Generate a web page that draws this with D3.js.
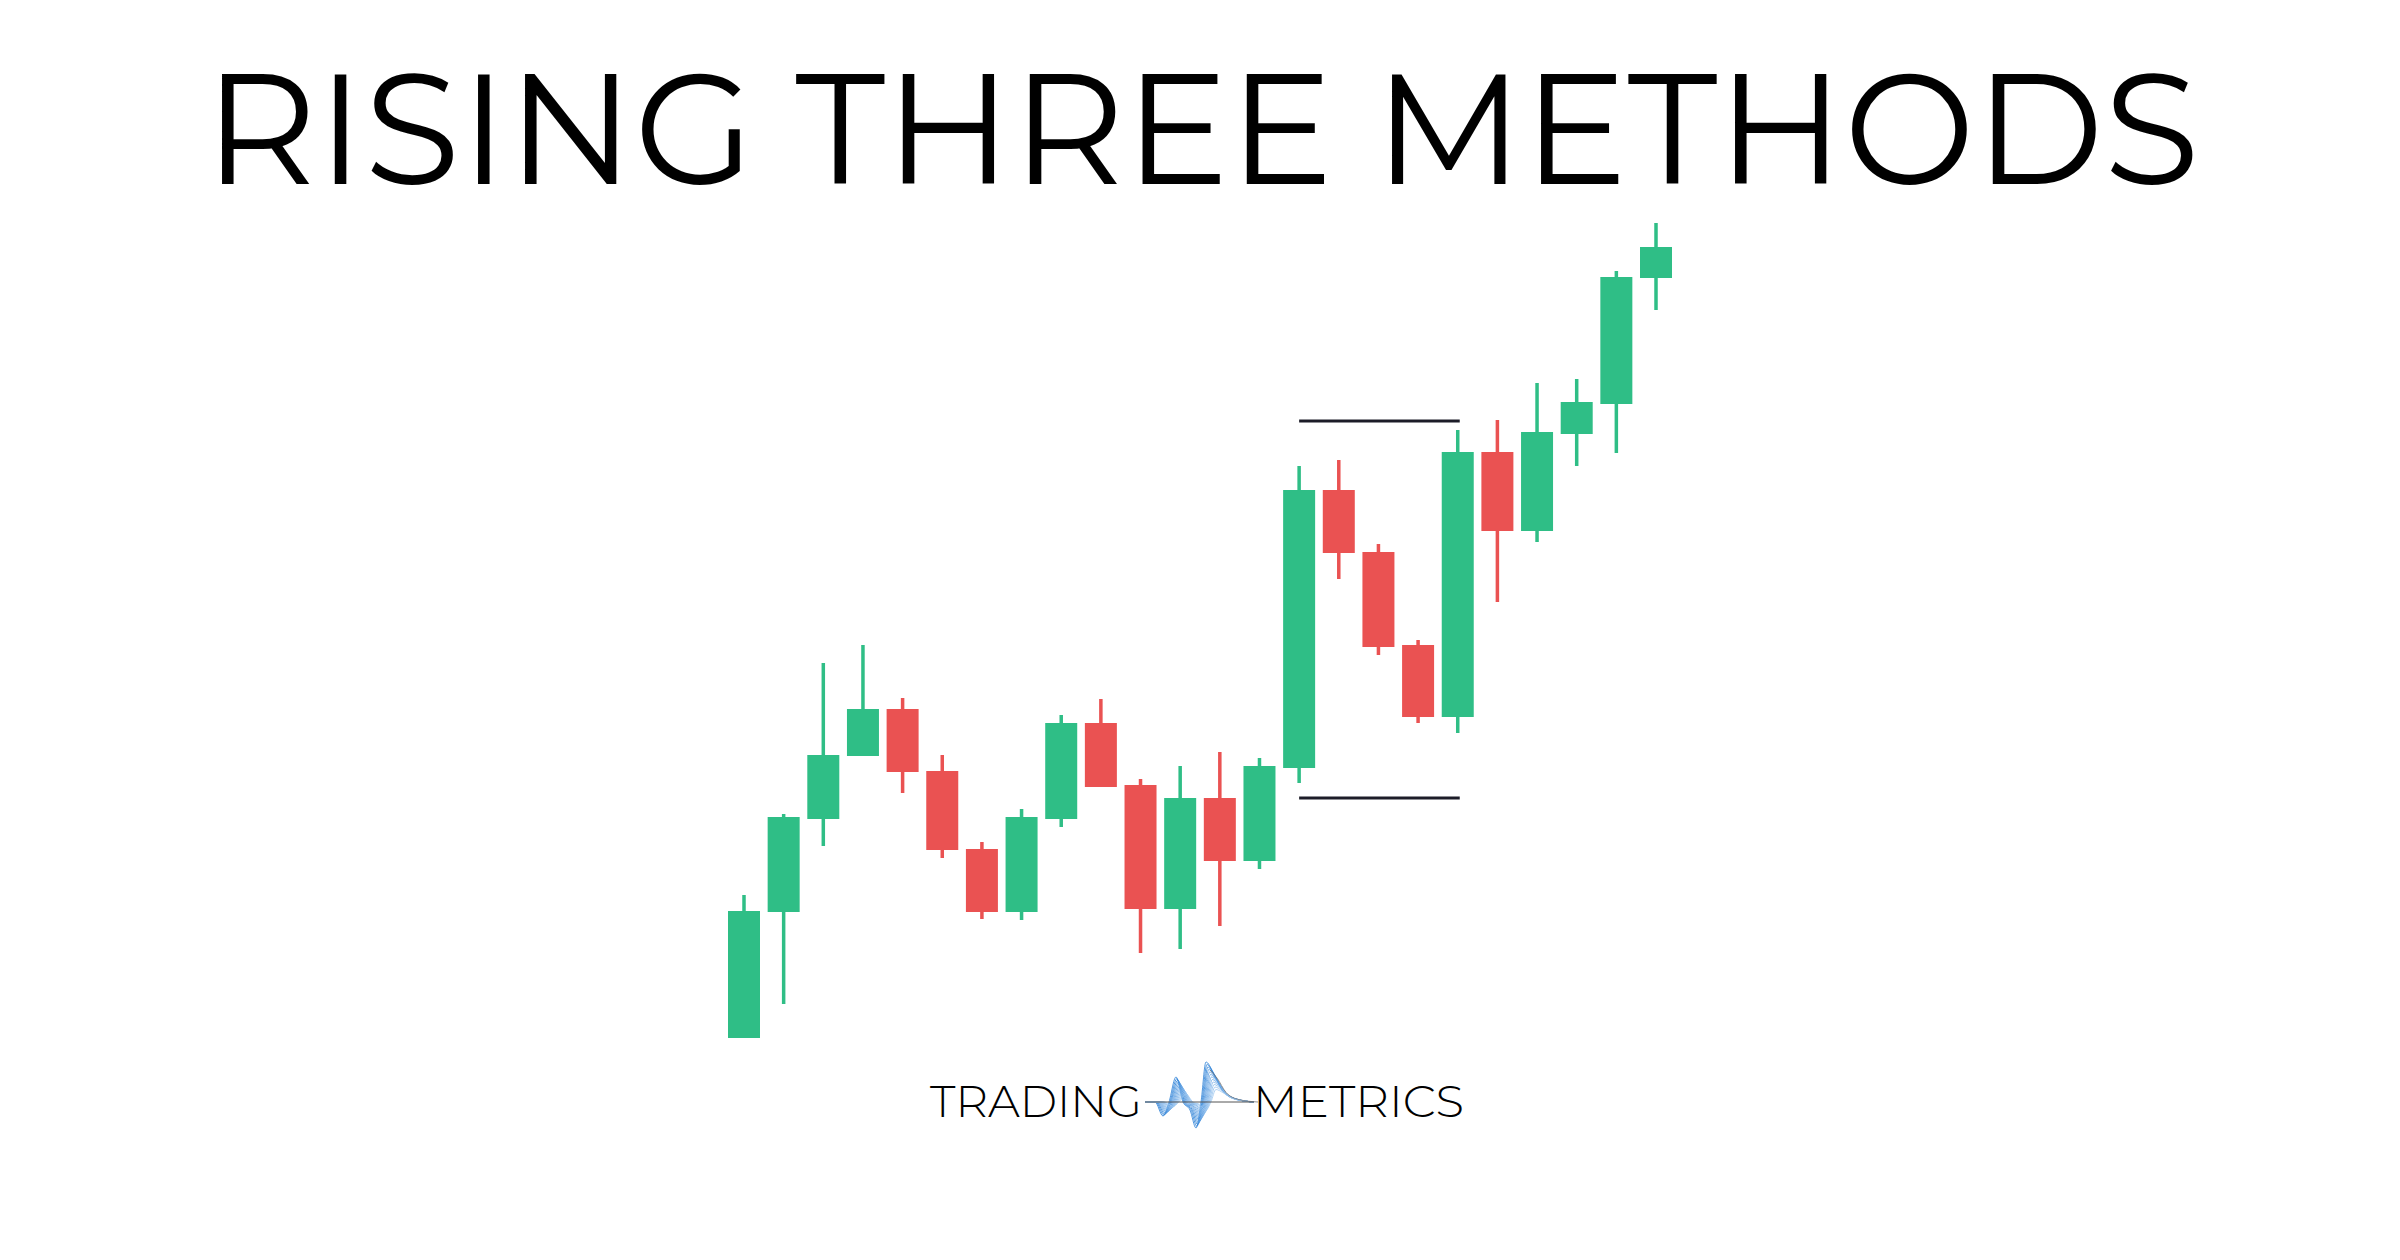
<!DOCTYPE html>
<html>
<head>
<meta charset="utf-8">
<script src="https://cdn.jsdelivr.net/npm/d3@7"></script>
<style>
  html, body { margin: 0; padding: 0; background: #ffffff; }
  svg { display: block; }
</style>
</head>
<body>
<svg id="chart" width="2400" height="1260"></svg>
<script>
// ---- data ----
const titleText = "RISING THREE METHODS";
const candleIndex = d3.range(1, 25);
const opens  = [6.2, 18.8, 28.1, 34.4, 39.1, 32.9, 25.1, 18.8, 28.1, 37.7, 31.5, 19.1, 30.2, 23.9, 33.2, 61.0, 54.8, 45.5, 38.3, 64.8, 56.9, 66.6, 69.6, 82.2];
const highs  = [20.5, 28.6, 43.7, 45.5, 40.2, 34.5, 25.8, 29.1, 38.5, 40.1, 32.1, 33.4, 34.8, 34.2, 63.4, 64.0, 55.6, 46.0, 67.0, 68.0, 71.7, 72.1, 82.9, 87.7];
const lows   = [6.2, 9.6, 25.4, 34.4, 30.7, 24.2, 18.1, 18.0, 27.3, 31.3, 14.7, 15.1, 17.4, 23.1, 31.7, 52.1, 44.5, 37.7, 36.7, 49.8, 55.8, 63.4, 64.7, 79.0];
const closes = [18.9, 28.3, 34.5, 39.1, 32.8, 25.0, 18.8, 28.3, 37.7, 31.3, 19.1, 30.2, 23.9, 33.4, 61.0, 54.7, 45.3, 38.3, 64.8, 56.9, 66.8, 69.8, 82.3, 85.3];
// pattern range lines: [from candle, to candle, level]
const patternLines = [
  { from: 15, to: 19, level: 67.9 },
  { from: 15, to: 19, level: 30.2 }
];
const logoLeft = "TRADING";
const logoRight = "METRICS";

const candles = candleIndex.map((c, i) => ({ c, o: opens[i], h: highs[i], l: lows[i], cl: closes[i] }));

// ---- layout ----
const W = 2400, H = 1260;
const GREEN = "#2fbe86", RED = "#ea5252", LINE = "#1c1c28";
const svg = d3.select("#chart");
svg.append("rect").attr("width", W).attr("height", H).attr("fill", "#fff");

const x = d3.scalePoint().domain(candleIndex).range([744, 1656]);
const y = d3.scaleLinear().domain([0, 100]).range([1100, 100]);
const bodyW = 32, wickW = 3.5;

// title
svg.append("text")
  .attr("x", 1202).attr("y", 184)
  .attr("text-anchor", "middle")
  .attr("font-family", "Montserrat, Inter, 'Noto Sans', sans-serif")
  .attr("font-size", 156).attr("font-weight", 400)
  .attr("fill", "#000")
  .text(titleText);

// candles
const g = svg.append("g");
const cg = g.selectAll("g.candle").data(candles).join("g").attr("class", "candle");
cg.append("rect")
  .attr("x", d => x(d.c) - wickW / 2)
  .attr("width", wickW)
  .attr("y", d => y(d.h))
  .attr("height", d => y(d.l) - y(d.h))
  .attr("fill", d => d.cl >= d.o ? GREEN : RED);
cg.append("rect")
  .attr("x", d => x(d.c) - bodyW / 2)
  .attr("width", bodyW)
  .attr("y", d => y(Math.max(d.o, d.cl)))
  .attr("height", d => Math.max(1, Math.abs(y(d.o) - y(d.cl))))
  .attr("fill", d => d.cl >= d.o ? GREEN : RED);

// pattern lines
g.selectAll("line.pat").data(patternLines).join("line")
  .attr("class", "pat")
  .attr("x1", d => x(d.from)).attr("x2", d => x(d.to) + 2)
  .attr("y1", d => y(d.level)).attr("y2", d => y(d.level))
  .attr("stroke", LINE).attr("stroke-width", 3);

// logo
const logo = svg.append("g");
logo.append("text")
  .attr("x", 930).attr("y", 1117)
  .attr("textLength", 212).attr("lengthAdjust", "spacingAndGlyphs")
  .attr("font-family", "Montserrat, Lato, 'Noto Sans', sans-serif")
  .attr("font-size", 43).attr("font-weight", 300)
  .attr("fill", "#000").text(logoLeft);
logo.append("text")
  .attr("x", 1253).attr("y", 1117)
  .attr("textLength", 211).attr("lengthAdjust", "spacingAndGlyphs")
  .attr("font-family", "Montserrat, Lato, 'Noto Sans', sans-serif")
  .attr("font-size", 43).attr("font-weight", 300)
  .attr("fill", "#000").text(logoRight);

// logo wave (decorative)
const waveBase = 1102;
const waveKnots = [
  [1145, 0], [1155, 0], [1163, -14], [1169, 0], [1176, 25], [1183, 0],
  [1190, -8], [1196, -26], [1201, 0], [1206, 40], [1213, 30], [1222, 12], [1235, 3], [1254, 0]
];
const waveLine = d3.line().curve(d3.curveMonotoneX);
const nWaves = 12;
const colorW = d3.scaleLinear().domain([0, nWaves - 1]).range(["#2a7fd6", "#9fc8f0"]);
for (let k = 0; k < nWaves; k++) {
  const f = 1 - k / nWaves * 0.75;
  const shift = k * 0.9;
  const pts = waveKnots.map(([px, a], j) => [px + (j > 0 && j < waveKnots.length - 1 ? shift : 0), waveBase - a * f]);
  logo.append("path")
    .attr("d", waveLine(pts))
    .attr("fill", "none")
    .attr("stroke", k < 3 ? "#2a7fd6" : colorW(k))
    .attr("stroke-width", 0.9)
    .attr("opacity", 0.9);
}
logo.append("path")
  .attr("d", waveLine(waveKnots.slice(9).map(([px, a]) => [px + 4, waveBase - a * 0.8])))
  .attr("fill", "none").attr("stroke", "#777").attr("stroke-width", 0.8);
logo.append("line").attr("x1", 1145).attr("x2", 1254).attr("y1", waveBase).attr("y2", waveBase)
  .attr("stroke", "#555").attr("stroke-width", 1);
</script>
</body>
</html>
